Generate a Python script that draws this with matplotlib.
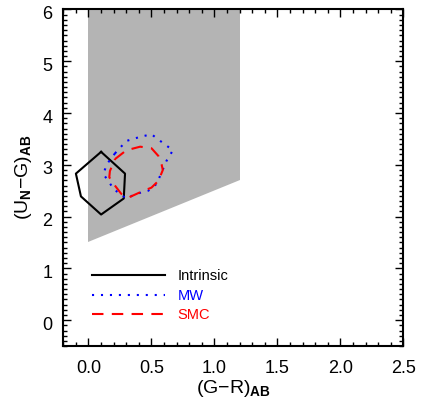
import matplotlib
matplotlib.use("Agg")
import matplotlib.pyplot as plt
import matplotlib.transforms as mtransforms
from matplotlib.ticker import MultipleLocator, FormatStrFormatter

plt.rcParams['font.family'] = ['Liberation Sans', 'DejaVu Sans']
plt.rcParams['mathtext.fontset'] = 'custom'
plt.rcParams['mathtext.rm'] = 'Liberation Sans'
plt.rcParams['mathtext.it'] = 'Liberation Sans'
plt.rcParams['mathtext.bf'] = 'Liberation Sans:bold'

# allowed region (gray)
region_x = [0.0, 0.0, 1.2, 1.2]
region_y = [1.5, 6.0, 6.0, 2.7]

# intrinsic colours
intr_x = [0.10, 0.29, 0.28, 0.10, -0.06, -0.10, 0.10]
intr_y = [3.25, 2.83, 2.35, 2.04, 2.39, 2.83, 3.25]

# MW extinction
mw_x = [0.21, 0.30, 0.41, 0.50, 0.57, 0.67, 0.62, 0.58, 0.54, 0.475, 0.38, 0.30, 0.20, 0.157, 0.118, 0.145, 0.21]
mw_y = [3.22, 3.46, 3.54, 3.59, 3.46, 3.28, 3.08, 2.85, 2.63, 2.50, 2.44, 2.35, 2.53, 2.69, 2.82, 3.01, 3.22]

# SMC extinction
smc_x = [0.21, 0.30, 0.41, 0.50, 0.555, 0.58, 0.59, 0.555, 0.50, 0.41, 0.32, 0.26, 0.20, 0.165, 0.17, 0.21]
smc_y = [3.11, 3.28, 3.35, 3.32, 3.17, 3.01, 2.90, 2.69, 2.56, 2.47, 2.37, 2.44, 2.63, 2.76, 2.88, 3.11]

labels = ['Intrinsic', 'MW', 'SMC']
label_colors = ['black', 'blue', 'red']

fig = plt.figure(figsize=(4.22, 4.11), dpi=100)
ax = fig.add_axes([0.150, 0.158, 0.806, 0.819])

ax.fill(region_x, region_y, color='#b4b4b4', lw=0)
l1, = ax.plot(intr_x, intr_y, color='black', lw=1.5)
l2, = ax.plot(mw_x, mw_y, color='blue', lw=1.5, ls=(0, (1, 3.3)))
l3, = ax.plot(smc_x, smc_y, color='red', lw=1.5, ls=(0, (5.5, 4)))

ax.set_xlim(-0.2, 2.5)
ax.set_ylim(-0.5, 6.0)
ax.xaxis.set_major_locator(MultipleLocator(0.5))
ax.xaxis.set_minor_locator(MultipleLocator(0.1))
ax.yaxis.set_major_locator(MultipleLocator(1))
ax.yaxis.set_minor_locator(MultipleLocator(0.1))
ax.xaxis.set_major_formatter(FormatStrFormatter('%.1f'))
ax.tick_params(which='both', direction='in', top=True, right=True, width=1.0,
               labelsize=13)
ax.tick_params(which='major', length=5.5)
ax.tick_params(which='minor', length=3)
ax.tick_params(axis='x', pad=10)
ax.tick_params(axis='y', pad=8)
for s in ax.spines.values():
    s.set_linewidth(1.5)

# IDL style: y labels sit a little below their ticks
shift = mtransforms.ScaledTranslation(0, -3 / 100, fig.dpi_scale_trans)
for t in ax.get_yticklabels():
    t.set_transform(t.get_transform() + shift)

ax.set_xlabel(r'(G$-$R)$_{\mathbf{AB}}$', fontsize=14, labelpad=1)
ax.set_ylabel(r'(U$_{\mathbf{N}}$$-$G)$_{\mathbf{AB}}$', fontsize=14, labelpad=6)

leg = ax.legend([l1, l2, l3], labels, loc='upper left',
                bbox_to_anchor=(0.085, 0.228), frameon=False, fontsize=10.5,
                borderpad=0, borderaxespad=0,
                handlelength=5.0, handletextpad=0.85, labelspacing=0.38)
for t, c in zip(leg.get_texts(), label_colors):
    t.set_color(c)

fig.savefig('out.png', dpi=100)
